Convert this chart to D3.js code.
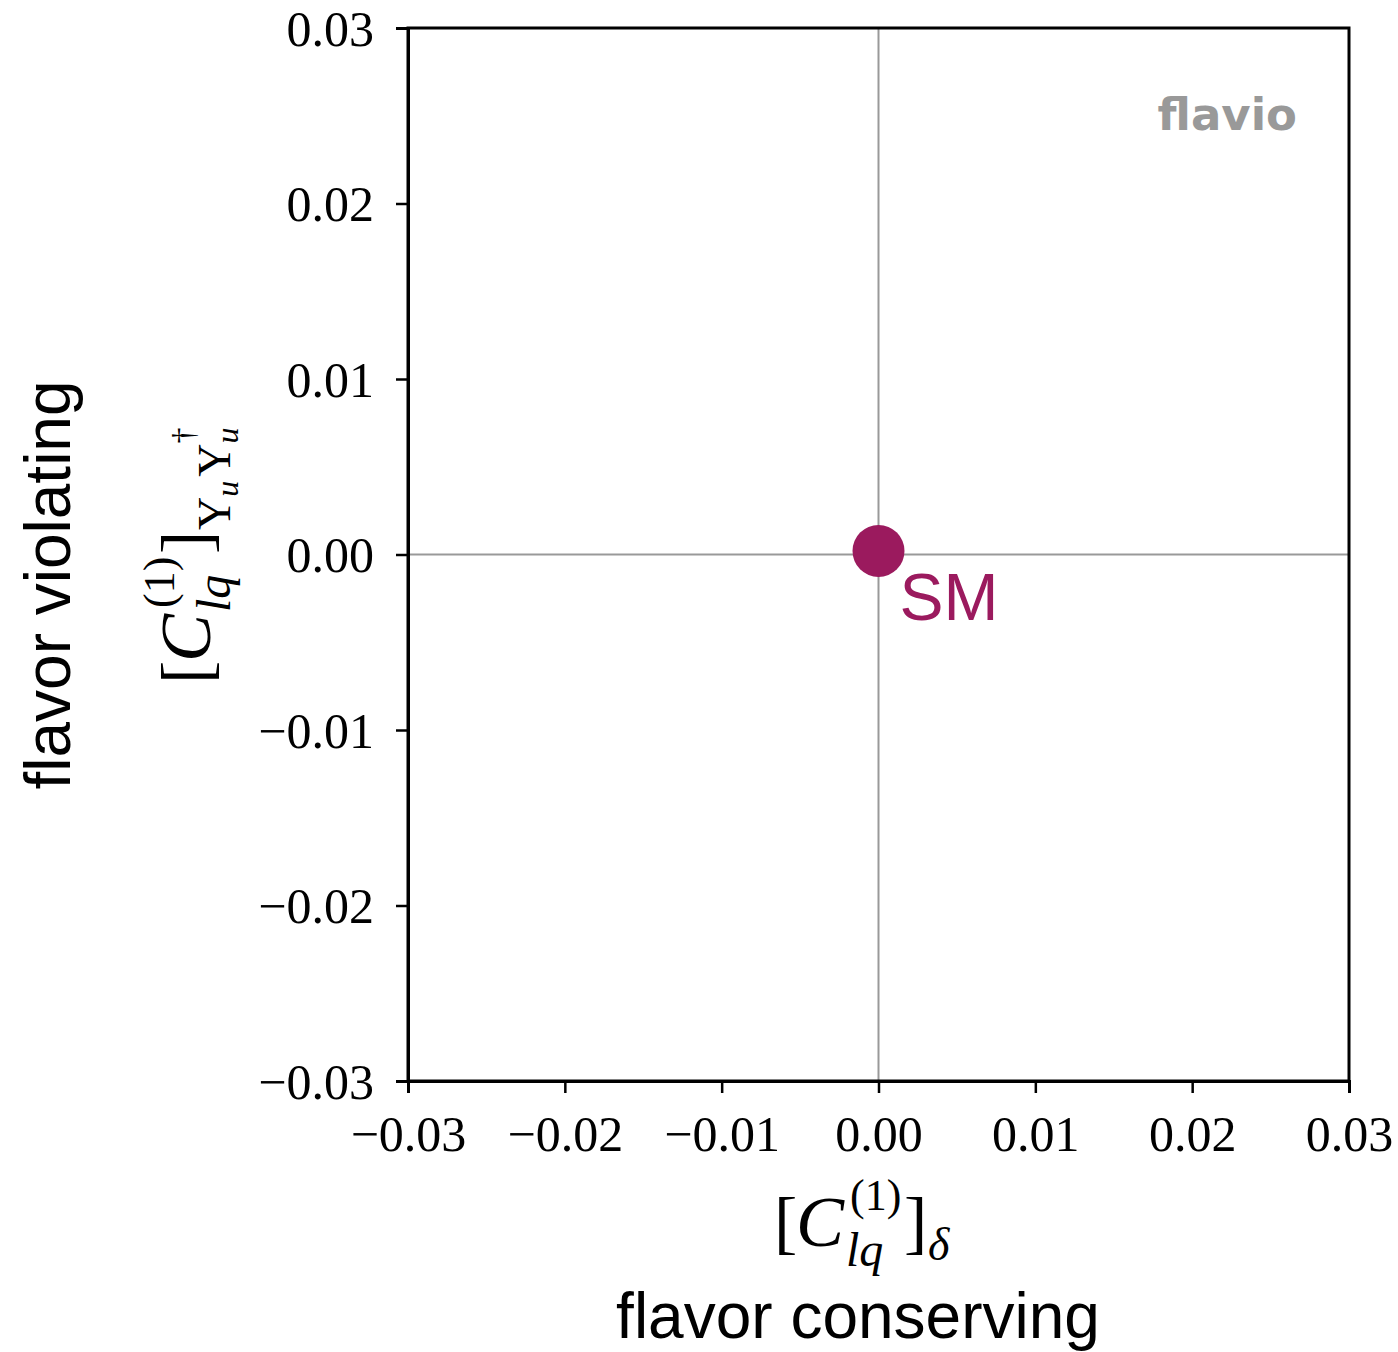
<!DOCTYPE html>
<html>
<head>
<meta charset="utf-8">
<script src="https://cdn.jsdelivr.net/npm/d3@7"></script>
<style>
  body { margin: 0; background: #fff; }
  .tick text { font-family: "Liberation Serif", serif; }
</style>
</head>
<body>
<script>
// Data
var xTicks = [-0.03, -0.02, -0.01, 0.00, 0.01, 0.02, 0.03];
var yTicks = [-0.03, -0.02, -0.01, 0.00, 0.01, 0.02, 0.03];
var smPoint = [{x: 0.0, y: 0.0002, label: "SM"}];

var W = 1398, H = 1352;
var plot = {left: 408, right: 1349, top: 28, bottom: 1081};
var smColor = "#9b1a5e";

var svg = d3.select("body").append("svg")
    .attr("width", W)
    .attr("height", H);

var x = d3.scaleLinear().domain([-0.03, 0.03]).range([plot.left, plot.right]);
var y = d3.scaleLinear().domain([-0.03, 0.03]).range([plot.bottom, plot.top]);

function fmt(d) {
  var s = Math.abs(d).toFixed(2);
  return (d < -1e-9 ? "\u2212" : "") + s;
}

// zero lines
svg.append("line")
    .attr("x1", x(0)).attr("x2", x(0))
    .attr("y1", plot.top).attr("y2", plot.bottom)
    .attr("stroke", "#999").attr("stroke-width", 2);
svg.append("line")
    .attr("x1", plot.left).attr("x2", plot.right)
    .attr("y1", y(0)).attr("y2", y(0))
    .attr("stroke", "#999").attr("stroke-width", 2);

// frame
svg.append("rect")
    .attr("x", plot.left).attr("y", plot.top)
    .attr("width", plot.right - plot.left)
    .attr("height", plot.bottom - plot.top)
    .attr("fill", "none")
    .attr("stroke", "#000").attr("stroke-width", 3);

// axes
var xAxis = svg.append("g")
    .attr("transform", "translate(0," + plot.bottom + ")")
    .call(d3.axisBottom(x).tickValues(xTicks).tickFormat(fmt).tickSize(12).tickPadding(22));
var yAxis = svg.append("g")
    .attr("transform", "translate(" + plot.left + ",0)")
    .call(d3.axisLeft(y).tickValues(yTicks).tickFormat(fmt).tickSize(12).tickPadding(22));

[xAxis, yAxis].forEach(function(a) {
  a.select(".domain").attr("stroke-width", 3);
  a.selectAll(".tick line").attr("stroke-width", 2.5);
  a.selectAll(".tick text").attr("font-size", 50).attr("fill", "#000");
});
yAxis.selectAll(".tick text").attr("dy", "0.34em");

// SM point
svg.selectAll(".sm")
    .data(smPoint)
    .enter().append("circle")
    .attr("class", "sm")
    .attr("cx", function(d) { return x(d.x); })
    .attr("cy", function(d) { return y(d.y); })
    .attr("r", 26)
    .attr("fill", smColor);
svg.selectAll(".smlabel")
    .data(smPoint)
    .enter().append("text")
    .attr("x", function(d) { return x(d.x) + 21; })
    .attr("y", function(d) { return y(d.y) + 69; })
    .attr("font-family", "Liberation Sans, Arial, sans-serif")
    .attr("font-size", 66)
    .attr("fill", smColor)
    .text(function(d) { return d.label; });

// flavio watermark
svg.append("text")
    .attr("x", 1297).attr("y", 130)
    .attr("text-anchor", "end")
    .attr("font-family", "DejaVu Sans, sans-serif")
    .attr("font-weight", "bold")
    .attr("font-size", 45)
    .attr("fill", "#999")
    .text("flavio");

// math label helper: [C_lq^(1)]_sub
function mathLabel(g, sub) {
  var serif = "Liberation Serif, serif";
  g.append("text").attr("x", 0).attr("y", 0)
      .attr("font-family", serif).attr("font-size", 70).text("[");
  g.append("text").attr("x", 22).attr("y", 0)
      .attr("font-family", serif).attr("font-style", "italic").attr("font-size", 72).text("C");
  g.append("text").attr("x", 76).attr("y", -36)
      .attr("font-family", serif).attr("font-size", 44).text("(1)");
  g.append("text").attr("x", 72).attr("y", 20)
      .attr("font-family", serif).attr("font-style", "italic").attr("font-size", 48).text("lq");
  g.append("text").attr("x", 130).attr("y", 0)
      .attr("font-family", serif).attr("font-size", 70).text("]");
  var s = g.append("text").attr("x", 154).attr("y", 14)
      .attr("font-family", serif).attr("font-size", 46);
  sub(s);
}

// x math label
var gx = svg.append("g").attr("transform", "translate(774,1246)");
mathLabel(gx, function(s) { s.attr("font-style", "italic").text("\u03b4"); });

// y math label (rotated)
var gy = svg.append("g").attr("transform", "translate(210,684) rotate(-90)");
mathLabel(gy, function(s) {
  s.attr("y", 20);
  s.append("tspan").text("Y");
  s.append("tspan").attr("font-size", 32).attr("font-style", "italic").attr("dy", 8).text("u");
  s.append("tspan").attr("dy", -8).attr("dx", 4).text("Y");
  s.append("tspan").attr("font-size", 32).attr("font-style", "italic").attr("dy", 8).text("u");
  s.append("tspan").attr("font-size", 32).attr("dx", -16).attr("dy", -44).text("\u2020");
});

// descriptive labels
svg.append("text")
    .attr("x", 858).attr("y", 1338)
    .attr("text-anchor", "middle")
    .attr("font-family", "Liberation Sans, Arial, sans-serif")
    .attr("font-size", 64)
    .attr("fill", "#000")
    .text("flavor conserving");
svg.append("text")
    .attr("transform", "translate(70,585) rotate(-90)")
    .attr("text-anchor", "middle")
    .attr("font-family", "Liberation Sans, Arial, sans-serif")
    .attr("font-size", 64)
    .attr("fill", "#000")
    .text("flavor violating");
</script>
</body>
</html>
